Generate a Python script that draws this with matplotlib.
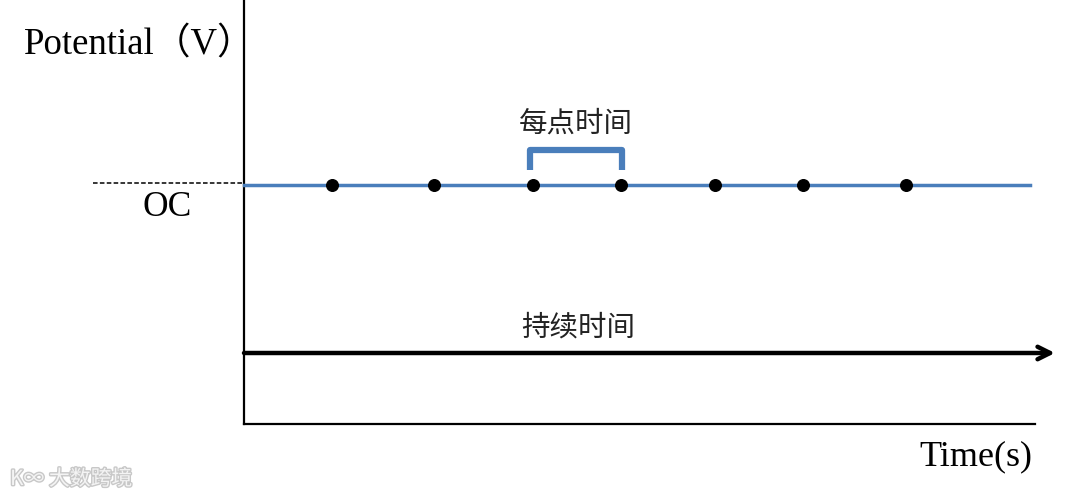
import matplotlib.pyplot as plt
import matplotlib.patheffects as pe

plt.rcParams['font.family'] = ['Liberation Serif', 'Noto Sans CJK SC', 'DejaVu Sans']

# schematic coordinates (pixel-like units, y grows downward)
sample_x = [332, 434, 533, 621, 715, 803, 906]
oc_level = 185
potential_x = [244, 1030]
bracket_x = [530, 622]
duration_x = [244, 1055]
duration_y = 353
axis_left = 244
axis_bottom = 424
axis_right = 1035

fig = plt.figure(figsize=(10.8, 4.99), dpi=100)
ax = fig.add_axes([0, 0, 1, 1])
ax.set_xlim(0, 1080)
ax.set_ylim(499, 0)
ax.axis('off')

blue = '#4a7ebb'

# axes lines
ax.plot([axis_left, axis_left], [0, axis_bottom], color='black', lw=1.6)
ax.plot([axis_left, axis_right], [axis_bottom, axis_bottom], color='black', lw=1.6)

# OC dashed reference
ax.plot([93, axis_left], [oc_level - 2, oc_level - 2], color='black', lw=1.1, ls=(0, (3, 1.5)))
ax.text(167, 207, 'OC', ha='center', va='center', fontsize=25.5)

# potential line + sample points
ax.plot(potential_x, [oc_level, oc_level], color=blue, lw=2.5, zorder=2)
ax.scatter(sample_x, [oc_level] * len(sample_x), s=70, color='black', zorder=3)

# bracket for time per point
bx0, bx1 = bracket_x
ax.plot([bx0, bx0, bx1, bx1], [170, 150, 150, 170], color=blue, lw=4.5,
        solid_joinstyle='round', solid_capstyle='butt')
ax.text((bx0 + bx1) / 2, 124, '每点时间', ha='center', va='center', fontsize=20.5,
        family=['Noto Sans CJK SC', 'DejaVu Sans'], color='#222222')

# duration arrow
ax.annotate('', xy=(duration_x[1], duration_y), xytext=(duration_x[0], duration_y),
            arrowprops=dict(arrowstyle='->,head_length=0.9,head_width=0.45',
                            color='black', lw=3.2, shrinkA=0, shrinkB=0))
ax.text(578, 328, '持续时间', ha='center', va='center', fontsize=20.5,
        family=['Noto Sans CJK SC', 'DejaVu Sans'], color='#222222')

# axis titles
ax.text(24, 45, 'Potential（V）', ha='left', va='center', fontsize=26.5,
        family=['Liberation Serif', 'Noto Sans CJK SC'])
ax.text(976, 457, 'Time(s)', ha='center', va='center', fontsize=26)

# watermark
ax.text(10, 479, 'K∞ 大数跨境', ha='left', va='center', fontsize=15,
        family=['Noto Sans CJK SC', 'DejaVu Sans'], color='#f4f4f4',
        path_effects=[pe.withStroke(linewidth=2, foreground='#c8c8c8')])

fig.savefig('out.png', dpi=100)
